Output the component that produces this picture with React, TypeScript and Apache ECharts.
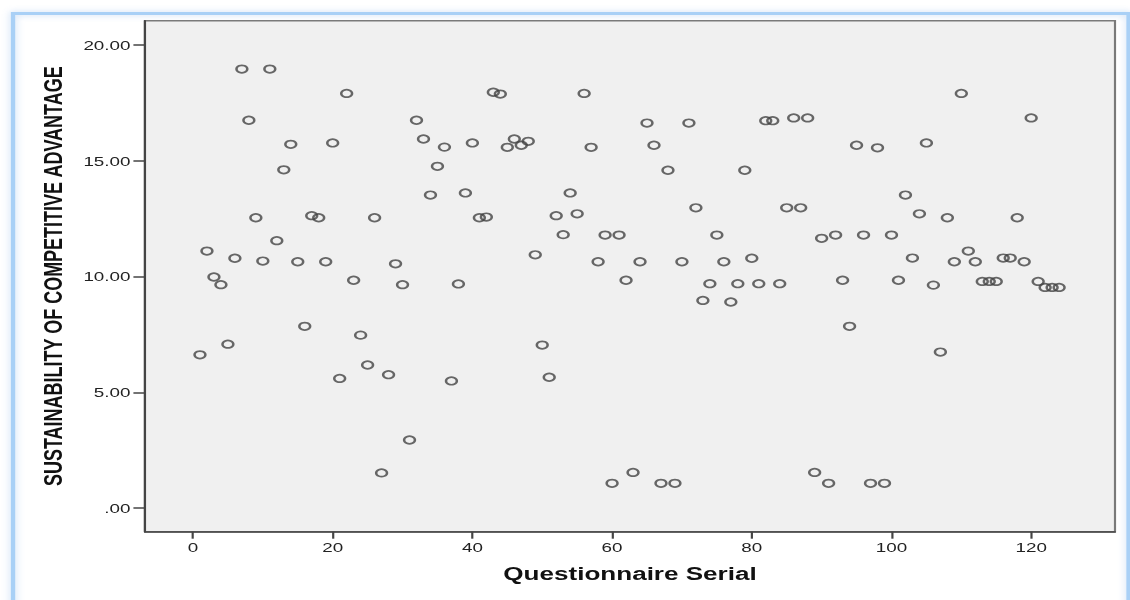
import React, { useEffect, useRef } from "react";
import * as echarts from "echarts";

// Sustainability of competitive advantage score per questionnaire (serial 1..124)
const scores: number[] = [
  6.62, 11.1, 9.98, 9.65, 7.08, 10.79, 18.96, 16.75, 12.54, 10.67,
  18.96, 11.55, 14.61, 15.71, 10.64, 7.85, 12.63, 12.54, 10.64, 15.77,
  5.6, 17.91, 9.84, 7.47, 6.18, 12.54, 1.52, 5.76, 10.55, 9.65,
  2.94, 16.75, 15.94, 13.52, 14.76, 15.59, 5.49, 9.68, 13.61, 15.77,
  12.54, 12.57, 17.96, 17.88, 15.58, 15.94, 15.67, 15.84, 10.94, 7.04,
  5.65, 12.63, 11.81, 13.61, 12.71, 17.91, 15.58, 10.64, 11.79, 1.07,
  11.79, 9.84, 1.54, 10.64, 16.63, 15.67, 1.07, 14.59, 1.07, 10.64,
  16.63, 12.97, 8.97, 9.69, 11.79, 10.64, 8.9, 9.69, 14.59, 10.79,
  9.69, 16.73, 16.73, 9.69, 12.97, 16.85, 12.97, 16.85, 1.54, 11.65,
  1.07, 11.79, 9.84, 7.85, 15.67, 11.79, 1.07, 15.56, 1.07, 11.79,
  9.84, 13.52, 10.8, 12.71, 15.77, 9.63, 6.74, 12.54, 10.64, 17.91,
  11.1, 10.64, 9.79, 9.79, 9.79, 10.8, 10.8, 12.54, 10.64, 16.85,
  9.79, 9.53, 9.53, 9.53,
];

const xTickValues = [0, 20, 40, 60, 80, 100, 120];
const yTickValues = [0, 5, 10, 15, 20];
const X_TITLE = "Questionnaire Serial";
const Y_TITLE = "SUSTAINABILITY OF COMPETITIVE ADVANTAGE";

// the reference picture is stretched horizontally
const INNER_W = 780;
const STRETCH = 1130 / INNER_W;
const FONT = "'Liberation Sans', Arial, sans-serif";

export default function App() {
  const ref = useRef<HTMLDivElement>(null);

  useEffect(() => {
    if (!ref.current) return;
    const chart = echarts.init(ref.current, null, { renderer: "svg" });
    const points = scores.map((v, i) => [i + 1, v]);

    chart.setOption({
      animation: false,
      backgroundColor: "#ffffff",
      graphic: [
        {
          type: "rect",
          z: -10,
          silent: true,
          shape: { x: 9, y: 13.5, width: 770, height: 700 },
          style: {
            fill: "none",
            stroke: "#a9d0f6",
            lineWidth: 3,
            shadowBlur: 6,
            shadowColor: "rgba(120,170,230,0.45)",
          },
        },
      ],
      grid: {
        show: true,
        left: 145 / STRETCH,
        right: INNER_W - 1115 / STRETCH,
        top: 20.7,
        bottom: 600 - 531.7,
        backgroundColor: "#f0f0f0",
        borderColor: "#7a7a7a",
        borderWidth: 1.5,
      },
      xAxis: {
        type: "value",
        min: -6.87,
        max: 132,
        name: X_TITLE,
        nameLocation: "middle",
        nameGap: 33,
        nameTextStyle: {
          fontFamily: FONT,
          fontSize: 18,
          fontWeight: "bold",
          color: "#111",
        },
        axisLine: { show: true, onZero: false, lineStyle: { color: "#444", width: 1.5 } },
        axisTick: {
          show: true,
          customValues: xTickValues,
          length: 7,
          lineStyle: { color: "#444", width: 1.5 },
        },
        axisLabel: {
          customValues: xTickValues,
          fontFamily: FONT,
          fontSize: 13,
          color: "#222",
          margin: 9,
        },
        splitLine: { show: false },
      },
      yAxis: {
        type: "value",
        min: -1.02,
        max: 21.05,
        name: Y_TITLE,
        nameLocation: "middle",
        nameRotate: 90,
        nameGap: 54,
        nameTextStyle: {
          fontFamily: FONT,
          fontSize: 18,
          fontWeight: "bold",
          color: "#111",
        },
        axisLine: { show: true, onZero: false, lineStyle: { color: "#444", width: 1.5 } },
        axisTick: {
          show: true,
          customValues: yTickValues,
          length: 8,
          lineStyle: { color: "#444", width: 1.5 },
        },
        axisLabel: {
          customValues: yTickValues,
          fontFamily: FONT,
          fontSize: 13,
          color: "#222",
          margin: 10,
          formatter: (v: number) => (v === 0 ? ".00" : v.toFixed(2)),
        },
        splitLine: { show: false },
      },
      series: [
        {
          type: "scatter",
          data: points,
          symbol: "circle",
          symbolSize: 7.5,
          itemStyle: {
            color: "rgba(0,0,0,0)",
            borderColor: "#444",
            borderWidth: 1.7,
          },
        },
      ],
    });

    return () => chart.dispose();
  }, []);

  return (
    <div
      style={{
        position: "fixed",
        left: 0,
        top: 0,
        width: 1130,
        height: 600,
        overflow: "hidden",
        background: "#fff",
      }}
    >
      <div
        ref={ref}
        style={{
          width: INNER_W,
          height: 600,
          transform: `scaleX(${STRETCH})`,
          transformOrigin: "0 0",
        }}
      />
    </div>
  );
}
